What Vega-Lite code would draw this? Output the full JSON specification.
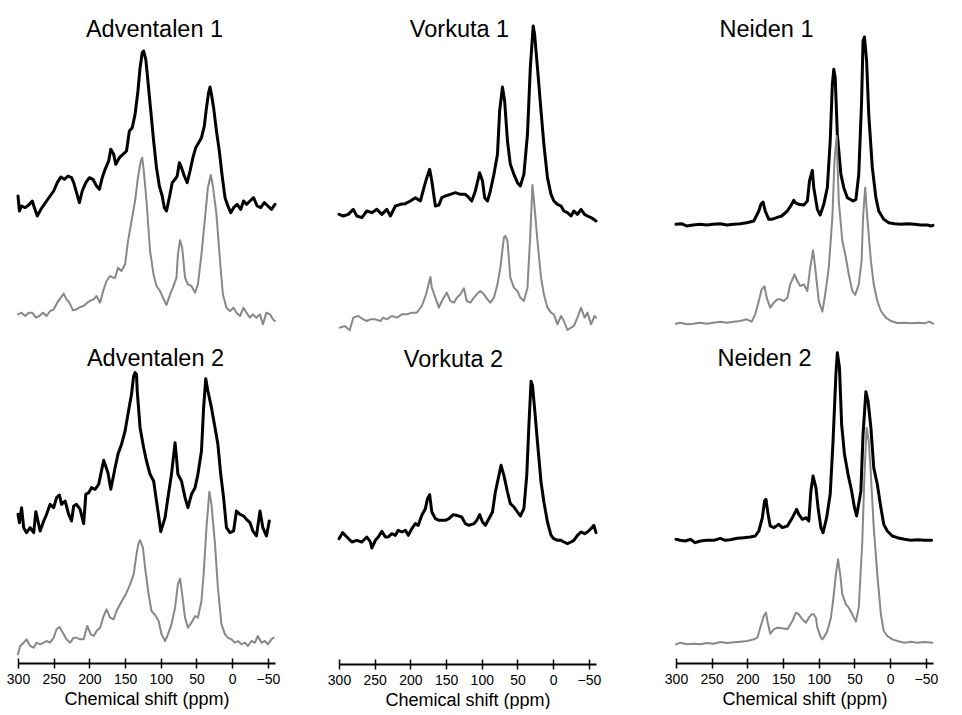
{
  "$schema": "https://vega.github.io/schema/vega-lite/v6.json",
  "background": "white",
  "padding": {"left": 6, "top": 17, "right": 0, "bottom": 0},
  "config": {
    "view": {"stroke": null},
    "font": "Liberation Sans",
    "title": {"fontSize": 23.5, "fontWeight": "normal", "color": "black", "anchor": "middle", "frame": "group", "baseline": "alphabetic"},
    "line": {"strokeJoin": "round", "strokeCap": "round"}
  },
  "datasets": {
    "a1k": [{"ppm":300,"i":405},{"ppm":298,"i":360},{"ppm":295,"i":375},{"ppm":290,"i":370},{"ppm":285,"i":378},{"ppm":280,"i":390},{"ppm":277,"i":370},{"ppm":273,"i":345},{"ppm":268,"i":365},{"ppm":260,"i":390},{"ppm":255,"i":405},{"ppm":250,"i":420},{"ppm":245,"i":445},{"ppm":240,"i":462},{"ppm":235,"i":455},{"ppm":230,"i":465},{"ppm":225,"i":460},{"ppm":222,"i":445},{"ppm":218,"i":415},{"ppm":214,"i":385},{"ppm":210,"i":420},{"ppm":205,"i":445},{"ppm":200,"i":460},{"ppm":195,"i":455},{"ppm":190,"i":435},{"ppm":186,"i":425},{"ppm":182,"i":460},{"ppm":178,"i":485},{"ppm":173,"i":510},{"ppm":170,"i":545},{"ppm":166,"i":530},{"ppm":163,"i":500},{"ppm":158,"i":520},{"ppm":153,"i":530},{"ppm":148,"i":540},{"ppm":144,"i":600},{"ppm":140,"i":610},{"ppm":136,"i":650},{"ppm":132,"i":720},{"ppm":129,"i":790},{"ppm":126,"i":835},{"ppm":124,"i":840},{"ppm":121,"i":815},{"ppm":118,"i":750},{"ppm":114,"i":660},{"ppm":110,"i":570},{"ppm":106,"i":490},{"ppm":102,"i":435},{"ppm":98,"i":405},{"ppm":95,"i":370},{"ppm":92,"i":360},{"ppm":88,"i":400},{"ppm":84,"i":445},{"ppm":80,"i":455},{"ppm":77,"i":465},{"ppm":74,"i":505},{"ppm":71,"i":490},{"ppm":67,"i":465},{"ppm":63,"i":445},{"ppm":59,"i":480},{"ppm":55,"i":520},{"ppm":51,"i":550},{"ppm":47,"i":565},{"ppm":43,"i":580},{"ppm":39,"i":615},{"ppm":36,"i":670},{"ppm":33,"i":715},{"ppm":31,"i":732},{"ppm":29,"i":710},{"ppm":26,"i":670},{"ppm":22,"i":600},{"ppm":18,"i":540},{"ppm":14,"i":465},{"ppm":10,"i":400},{"ppm":6,"i":375},{"ppm":2,"i":355},{"ppm":-2,"i":370},{"ppm":-7,"i":380},{"ppm":-12,"i":365},{"ppm":-16,"i":390},{"ppm":-20,"i":380},{"ppm":-25,"i":390},{"ppm":-30,"i":400},{"ppm":-35,"i":375},{"ppm":-40,"i":370},{"ppm":-45,"i":385},{"ppm":-50,"i":375},{"ppm":-55,"i":365},{"ppm":-60,"i":380}],
    "a1g": [{"ppm":300,"i":50},{"ppm":295,"i":55},{"ppm":290,"i":45},{"ppm":285,"i":55},{"ppm":280,"i":55},{"ppm":275,"i":40},{"ppm":270,"i":45},{"ppm":265,"i":55},{"ppm":260,"i":45},{"ppm":255,"i":60},{"ppm":250,"i":65},{"ppm":245,"i":85},{"ppm":240,"i":100},{"ppm":236,"i":112},{"ppm":232,"i":95},{"ppm":228,"i":85},{"ppm":223,"i":62},{"ppm":218,"i":65},{"ppm":213,"i":72},{"ppm":208,"i":75},{"ppm":203,"i":85},{"ppm":198,"i":92},{"ppm":194,"i":95},{"ppm":190,"i":105},{"ppm":185,"i":85},{"ppm":181,"i":118},{"ppm":176,"i":150},{"ppm":171,"i":165},{"ppm":167,"i":160},{"ppm":164,"i":160},{"ppm":160,"i":190},{"ppm":155,"i":180},{"ppm":150,"i":200},{"ppm":146,"i":268},{"ppm":141,"i":330},{"ppm":136,"i":390},{"ppm":132,"i":460},{"ppm":128,"i":510},{"ppm":126,"i":520},{"ppm":124,"i":485},{"ppm":120,"i":390},{"ppm":115,"i":240},{"ppm":110,"i":168},{"ppm":106,"i":135},{"ppm":101,"i":120},{"ppm":97,"i":100},{"ppm":92,"i":78},{"ppm":87,"i":110},{"ppm":83,"i":130},{"ppm":78,"i":160},{"ppm":76,"i":230},{"ppm":73,"i":272},{"ppm":70,"i":250},{"ppm":66,"i":160},{"ppm":62,"i":140},{"ppm":57,"i":135},{"ppm":52,"i":115},{"ppm":48,"i":140},{"ppm":43,"i":230},{"ppm":38,"i":340},{"ppm":34,"i":430},{"ppm":30,"i":468},{"ppm":27,"i":435},{"ppm":22,"i":350},{"ppm":17,"i":210},{"ppm":13,"i":110},{"ppm":8,"i":70},{"ppm":3,"i":60},{"ppm":-2,"i":70},{"ppm":-6,"i":55},{"ppm":-11,"i":45},{"ppm":-16,"i":70},{"ppm":-20,"i":55},{"ppm":-25,"i":40},{"ppm":-29,"i":50},{"ppm":-34,"i":40},{"ppm":-39,"i":50},{"ppm":-43,"i":20},{"ppm":-48,"i":55},{"ppm":-53,"i":50},{"ppm":-57,"i":35},{"ppm":-60,"i":30}],
    "v1k": [{"ppm":300,"i":350},{"ppm":294,"i":345},{"ppm":287,"i":350},{"ppm":280,"i":365},{"ppm":275,"i":345},{"ppm":268,"i":340},{"ppm":261,"i":360},{"ppm":254,"i":355},{"ppm":247,"i":365},{"ppm":240,"i":350},{"ppm":233,"i":365},{"ppm":228,"i":345},{"ppm":221,"i":375},{"ppm":214,"i":380},{"ppm":207,"i":382},{"ppm":200,"i":390},{"ppm":193,"i":400},{"ppm":186,"i":390},{"ppm":181,"i":430},{"ppm":177,"i":460},{"ppm":173,"i":485},{"ppm":170,"i":450},{"ppm":165,"i":375},{"ppm":160,"i":378},{"ppm":156,"i":400},{"ppm":151,"i":405},{"ppm":144,"i":410},{"ppm":137,"i":415},{"ppm":130,"i":410},{"ppm":123,"i":410},{"ppm":118,"i":400},{"ppm":114,"i":390},{"ppm":109,"i":420},{"ppm":103,"i":475},{"ppm":99,"i":450},{"ppm":96,"i":400},{"ppm":92,"i":390},{"ppm":88,"i":420},{"ppm":83,"i":470},{"ppm":78,"i":530},{"ppm":75,"i":660},{"ppm":71,"i":732},{"ppm":68,"i":690},{"ppm":64,"i":570},{"ppm":60,"i":500},{"ppm":55,"i":470},{"ppm":50,"i":445},{"ppm":46,"i":435},{"ppm":41,"i":470},{"ppm":36,"i":590},{"ppm":32,"i":790},{"ppm":28,"i":915},{"ppm":26,"i":890},{"ppm":22,"i":790},{"ppm":17,"i":660},{"ppm":13,"i":560},{"ppm":8,"i":460},{"ppm":3,"i":410},{"ppm":-1,"i":390},{"ppm":-6,"i":380},{"ppm":-11,"i":375},{"ppm":-15,"i":360},{"ppm":-20,"i":355},{"ppm":-25,"i":345},{"ppm":-29,"i":360},{"ppm":-34,"i":350},{"ppm":-39,"i":365},{"ppm":-44,"i":350},{"ppm":-48,"i":345},{"ppm":-53,"i":340},{"ppm":-57,"i":335},{"ppm":-60,"i":330}],
    "v1g": [{"ppm":299,"i":10},{"ppm":292,"i":15},{"ppm":285,"i":2},{"ppm":280,"i":40},{"ppm":273,"i":45},{"ppm":266,"i":35},{"ppm":261,"i":30},{"ppm":256,"i":35},{"ppm":249,"i":35},{"ppm":242,"i":30},{"ppm":238,"i":40},{"ppm":233,"i":35},{"ppm":226,"i":45},{"ppm":219,"i":40},{"ppm":212,"i":50},{"ppm":205,"i":50},{"ppm":198,"i":55},{"ppm":191,"i":55},{"ppm":184,"i":75},{"ppm":178,"i":110},{"ppm":172,"i":162},{"ppm":170,"i":130},{"ppm":165,"i":100},{"ppm":160,"i":70},{"ppm":156,"i":90},{"ppm":149,"i":115},{"ppm":144,"i":90},{"ppm":139,"i":85},{"ppm":135,"i":100},{"ppm":130,"i":110},{"ppm":125,"i":128},{"ppm":121,"i":90},{"ppm":116,"i":85},{"ppm":111,"i":100},{"ppm":107,"i":110},{"ppm":102,"i":120},{"ppm":97,"i":110},{"ppm":92,"i":95},{"ppm":88,"i":85},{"ppm":83,"i":100},{"ppm":78,"i":140},{"ppm":74,"i":190},{"ppm":69,"i":280},{"ppm":67,"i":285},{"ppm":64,"i":270},{"ppm":60,"i":160},{"ppm":55,"i":130},{"ppm":50,"i":120},{"ppm":46,"i":100},{"ppm":41,"i":90},{"ppm":36,"i":130},{"ppm":32,"i":290},{"ppm":29,"i":438},{"ppm":26,"i":370},{"ppm":22,"i":270},{"ppm":17,"i":160},{"ppm":13,"i":110},{"ppm":8,"i":70},{"ppm":3,"i":55},{"ppm":-1,"i":50},{"ppm":-6,"i":20},{"ppm":-11,"i":45},{"ppm":-15,"i":30},{"ppm":-20,"i":3},{"ppm":-25,"i":10},{"ppm":-29,"i":15},{"ppm":-34,"i":40},{"ppm":-39,"i":70},{"ppm":-44,"i":40},{"ppm":-48,"i":55},{"ppm":-53,"i":20},{"ppm":-58,"i":45},{"ppm":-60,"i":40}],
    "n1k": [{"ppm":300,"i":320},{"ppm":292,"i":322},{"ppm":285,"i":315},{"ppm":276,"i":318},{"ppm":266,"i":320},{"ppm":257,"i":318},{"ppm":248,"i":320},{"ppm":238,"i":322},{"ppm":229,"i":318},{"ppm":219,"i":320},{"ppm":210,"i":322},{"ppm":201,"i":325},{"ppm":191,"i":330},{"ppm":184,"i":360},{"ppm":181,"i":380},{"ppm":178,"i":387},{"ppm":175,"i":360},{"ppm":170,"i":335},{"ppm":166,"i":335},{"ppm":159,"i":340},{"ppm":152,"i":345},{"ppm":144,"i":360},{"ppm":138,"i":380},{"ppm":135,"i":392},{"ppm":133,"i":385},{"ppm":128,"i":380},{"ppm":121,"i":378},{"ppm":116,"i":390},{"ppm":113,"i":450},{"ppm":109,"i":482},{"ppm":107,"i":430},{"ppm":102,"i":365},{"ppm":98,"i":348},{"ppm":93,"i":380},{"ppm":88,"i":430},{"ppm":84,"i":570},{"ppm":81,"i":740},{"ppm":79,"i":785},{"ppm":77,"i":760},{"ppm":74,"i":590},{"ppm":69,"i":470},{"ppm":65,"i":430},{"ppm":60,"i":400},{"ppm":52,"i":390},{"ppm":48,"i":395},{"ppm":44,"i":470},{"ppm":40,"i":690},{"ppm":38,"i":870},{"ppm":36,"i":882},{"ppm":33,"i":810},{"ppm":30,"i":650},{"ppm":25,"i":490},{"ppm":20,"i":400},{"ppm":16,"i":360},{"ppm":9,"i":335},{"ppm":2,"i":325},{"ppm":-6,"i":322},{"ppm":-15,"i":320},{"ppm":-24,"i":322},{"ppm":-34,"i":320},{"ppm":-43,"i":318},{"ppm":-52,"i":318},{"ppm":-57,"i":315},{"ppm":-60,"i":317}],
    "n1g": [{"ppm":300,"i":22},{"ppm":294,"i":25},{"ppm":285,"i":20},{"ppm":276,"i":22},{"ppm":266,"i":25},{"ppm":257,"i":22},{"ppm":248,"i":25},{"ppm":238,"i":28},{"ppm":229,"i":25},{"ppm":219,"i":28},{"ppm":210,"i":30},{"ppm":201,"i":35},{"ppm":194,"i":28},{"ppm":189,"i":50},{"ppm":184,"i":90},{"ppm":180,"i":125},{"ppm":176,"i":134},{"ppm":173,"i":100},{"ppm":168,"i":70},{"ppm":163,"i":85},{"ppm":158,"i":95},{"ppm":154,"i":95},{"ppm":149,"i":90},{"ppm":144,"i":100},{"ppm":140,"i":140},{"ppm":134,"i":170},{"ppm":130,"i":150},{"ppm":126,"i":135},{"ppm":121,"i":140},{"ppm":116,"i":120},{"ppm":112,"i":190},{"ppm":108,"i":242},{"ppm":105,"i":190},{"ppm":100,"i":90},{"ppm":95,"i":58},{"ppm":91,"i":110},{"ppm":86,"i":190},{"ppm":81,"i":340},{"ppm":78,"i":510},{"ppm":75,"i":585},{"ppm":72,"i":390},{"ppm":67,"i":270},{"ppm":62,"i":220},{"ppm":58,"i":170},{"ppm":53,"i":120},{"ppm":49,"i":108},{"ppm":44,"i":140},{"ppm":40,"i":210},{"ppm":38,"i":340},{"ppm":35,"i":430},{"ppm":32,"i":340},{"ppm":27,"i":210},{"ppm":23,"i":140},{"ppm":18,"i":90},{"ppm":13,"i":60},{"ppm":6,"i":40},{"ppm":-1,"i":30},{"ppm":-10,"i":24},{"ppm":-20,"i":25},{"ppm":-29,"i":23},{"ppm":-38,"i":25},{"ppm":-48,"i":23},{"ppm":-55,"i":28},{"ppm":-60,"i":22}],
    "a2k": [{"ppm":300,"i":446},{"ppm":298,"i":421},{"ppm":295,"i":466},{"ppm":292,"i":406},{"ppm":288,"i":391},{"ppm":283,"i":406},{"ppm":278,"i":391},{"ppm":275,"i":454},{"ppm":269,"i":396},{"ppm":264,"i":426},{"ppm":260,"i":446},{"ppm":255,"i":476},{"ppm":250,"i":466},{"ppm":246,"i":496},{"ppm":242,"i":504},{"ppm":239,"i":476},{"ppm":234,"i":486},{"ppm":229,"i":446},{"ppm":225,"i":426},{"ppm":222,"i":471},{"ppm":218,"i":476},{"ppm":213,"i":461},{"ppm":208,"i":418},{"ppm":205,"i":506},{"ppm":201,"i":511},{"ppm":197,"i":526},{"ppm":192,"i":521},{"ppm":187,"i":536},{"ppm":185,"i":556},{"ppm":180,"i":608},{"ppm":174,"i":571},{"ppm":170,"i":521},{"ppm":164,"i":586},{"ppm":160,"i":626},{"ppm":155,"i":656},{"ppm":150,"i":696},{"ppm":146,"i":746},{"ppm":141,"i":806},{"ppm":138,"i":861},{"ppm":136,"i":871},{"ppm":134,"i":866},{"ppm":133,"i":816},{"ppm":129,"i":706},{"ppm":124,"i":646},{"ppm":120,"i":606},{"ppm":115,"i":566},{"ppm":110,"i":546},{"ppm":106,"i":486},{"ppm":102,"i":426},{"ppm":100,"i":394},{"ppm":94,"i":436},{"ppm":90,"i":496},{"ppm":85,"i":566},{"ppm":80,"i":661},{"ppm":78,"i":616},{"ppm":76,"i":566},{"ppm":71,"i":546},{"ppm":66,"i":496},{"ppm":62,"i":466},{"ppm":57,"i":506},{"ppm":52,"i":526},{"ppm":48,"i":566},{"ppm":43,"i":636},{"ppm":40,"i":766},{"ppm":37,"i":853},{"ppm":34,"i":816},{"ppm":29,"i":766},{"ppm":24,"i":706},{"ppm":20,"i":656},{"ppm":16,"i":566},{"ppm":12,"i":496},{"ppm":8,"i":406},{"ppm":3,"i":391},{"ppm":-2,"i":396},{"ppm":-6,"i":456},{"ppm":-11,"i":446},{"ppm":-16,"i":441},{"ppm":-20,"i":431},{"ppm":-25,"i":421},{"ppm":-29,"i":396},{"ppm":-34,"i":381},{"ppm":-39,"i":456},{"ppm":-43,"i":406},{"ppm":-48,"i":381},{"ppm":-52,"i":426}],
    "a2g": [{"ppm":300,"i":26},{"ppm":297,"i":51},{"ppm":292,"i":61},{"ppm":288,"i":71},{"ppm":283,"i":51},{"ppm":278,"i":46},{"ppm":274,"i":61},{"ppm":269,"i":56},{"ppm":264,"i":61},{"ppm":260,"i":66},{"ppm":255,"i":61},{"ppm":250,"i":76},{"ppm":246,"i":101},{"ppm":242,"i":108},{"ppm":236,"i":86},{"ppm":232,"i":71},{"ppm":227,"i":61},{"ppm":222,"i":76},{"ppm":218,"i":76},{"ppm":213,"i":71},{"ppm":208,"i":71},{"ppm":203,"i":111},{"ppm":198,"i":86},{"ppm":194,"i":81},{"ppm":190,"i":96},{"ppm":185,"i":106},{"ppm":180,"i":141},{"ppm":176,"i":161},{"ppm":171,"i":136},{"ppm":166,"i":131},{"ppm":162,"i":156},{"ppm":157,"i":176},{"ppm":152,"i":196},{"ppm":148,"i":211},{"ppm":143,"i":236},{"ppm":138,"i":266},{"ppm":134,"i":326},{"ppm":131,"i":361},{"ppm":129,"i":368},{"ppm":125,"i":346},{"ppm":122,"i":286},{"ppm":117,"i":206},{"ppm":113,"i":156},{"ppm":108,"i":144},{"ppm":103,"i":126},{"ppm":99,"i":86},{"ppm":94,"i":66},{"ppm":90,"i":86},{"ppm":85,"i":116},{"ppm":80,"i":166},{"ppm":76,"i":236},{"ppm":73,"i":253},{"ppm":70,"i":206},{"ppm":66,"i":136},{"ppm":62,"i":106},{"ppm":57,"i":121},{"ppm":52,"i":141},{"ppm":48,"i":136},{"ppm":43,"i":186},{"ppm":40,"i":266},{"ppm":36,"i":406},{"ppm":32,"i":514},{"ppm":29,"i":476},{"ppm":24,"i":356},{"ppm":20,"i":226},{"ppm":15,"i":116},{"ppm":10,"i":86},{"ppm":6,"i":76},{"ppm":1,"i":71},{"ppm":-4,"i":61},{"ppm":-8,"i":66},{"ppm":-13,"i":56},{"ppm":-18,"i":61},{"ppm":-22,"i":51},{"ppm":-27,"i":66},{"ppm":-32,"i":61},{"ppm":-36,"i":81},{"ppm":-41,"i":61},{"ppm":-46,"i":66},{"ppm":-50,"i":56},{"ppm":-55,"i":71},{"ppm":-58,"i":76}],
    "v2k": [{"ppm":300,"i":376},{"ppm":295,"i":394},{"ppm":289,"i":381},{"ppm":282,"i":366},{"ppm":275,"i":371},{"ppm":268,"i":366},{"ppm":261,"i":381},{"ppm":256,"i":366},{"ppm":254,"i":348},{"ppm":249,"i":371},{"ppm":245,"i":381},{"ppm":240,"i":398},{"ppm":235,"i":381},{"ppm":231,"i":381},{"ppm":226,"i":391},{"ppm":221,"i":386},{"ppm":217,"i":401},{"ppm":212,"i":396},{"ppm":207,"i":401},{"ppm":203,"i":386},{"ppm":198,"i":406},{"ppm":193,"i":421},{"ppm":189,"i":416},{"ppm":184,"i":446},{"ppm":179,"i":466},{"ppm":176,"i":496},{"ppm":173,"i":508},{"ppm":170,"i":456},{"ppm":165,"i":436},{"ppm":160,"i":431},{"ppm":156,"i":431},{"ppm":151,"i":431},{"ppm":146,"i":436},{"ppm":140,"i":448},{"ppm":135,"i":446},{"ppm":128,"i":441},{"ppm":123,"i":421},{"ppm":118,"i":416},{"ppm":111,"i":421},{"ppm":107,"i":431},{"ppm":103,"i":448},{"ppm":99,"i":426},{"ppm":95,"i":416},{"ppm":90,"i":436},{"ppm":85,"i":456},{"ppm":81,"i":516},{"ppm":76,"i":566},{"ppm":73,"i":596},{"ppm":69,"i":566},{"ppm":64,"i":516},{"ppm":60,"i":481},{"ppm":55,"i":471},{"ppm":50,"i":456},{"ppm":46,"i":444},{"ppm":41,"i":466},{"ppm":37,"i":566},{"ppm":34,"i":716},{"ppm":31,"i":848},{"ppm":29,"i":836},{"ppm":26,"i":766},{"ppm":22,"i":666},{"ppm":17,"i":546},{"ppm":13,"i":486},{"ppm":8,"i":426},{"ppm":3,"i":386},{"ppm":-1,"i":376},{"ppm":-6,"i":371},{"ppm":-11,"i":371},{"ppm":-15,"i":366},{"ppm":-20,"i":361},{"ppm":-25,"i":366},{"ppm":-29,"i":371},{"ppm":-34,"i":386},{"ppm":-39,"i":396},{"ppm":-44,"i":391},{"ppm":-48,"i":396},{"ppm":-53,"i":406},{"ppm":-57,"i":416},{"ppm":-60,"i":394}],
    "n2k": [{"ppm":300,"i":371},{"ppm":294,"i":368},{"ppm":287,"i":366},{"ppm":280,"i":371},{"ppm":273,"i":361},{"ppm":266,"i":366},{"ppm":257,"i":368},{"ppm":247,"i":368},{"ppm":238,"i":374},{"ppm":231,"i":368},{"ppm":224,"i":370},{"ppm":214,"i":374},{"ppm":205,"i":376},{"ppm":196,"i":378},{"ppm":189,"i":381},{"ppm":184,"i":396},{"ppm":179,"i":436},{"ppm":176,"i":486},{"ppm":174,"i":491},{"ppm":171,"i":446},{"ppm":168,"i":411},{"ppm":163,"i":406},{"ppm":156,"i":416},{"ppm":151,"i":406},{"ppm":144,"i":411},{"ppm":137,"i":436},{"ppm":131,"i":461},{"ppm":128,"i":446},{"ppm":123,"i":431},{"ppm":118,"i":436},{"ppm":114,"i":426},{"ppm":111,"i":516},{"ppm":108,"i":561},{"ppm":104,"i":526},{"ppm":101,"i":466},{"ppm":97,"i":406},{"ppm":94,"i":391},{"ppm":89,"i":436},{"ppm":84,"i":506},{"ppm":80,"i":666},{"ppm":76,"i":866},{"ppm":74,"i":931},{"ppm":71,"i":886},{"ppm":68,"i":716},{"ppm":64,"i":626},{"ppm":59,"i":566},{"ppm":54,"i":516},{"ppm":50,"i":466},{"ppm":47,"i":441},{"ppm":41,"i":516},{"ppm":38,"i":686},{"ppm":34,"i":814},{"ppm":31,"i":786},{"ppm":27,"i":706},{"ppm":23,"i":586},{"ppm":18,"i":536},{"ppm":13,"i":466},{"ppm":9,"i":416},{"ppm":4,"i":396},{"ppm":-3,"i":381},{"ppm":-10,"i":376},{"ppm":-20,"i":371},{"ppm":-29,"i":368},{"ppm":-38,"i":370},{"ppm":-48,"i":368},{"ppm":-58,"i":368}],
    "n2g": [{"ppm":300,"i":56},{"ppm":294,"i":61},{"ppm":285,"i":56},{"ppm":275,"i":58},{"ppm":266,"i":56},{"ppm":257,"i":60},{"ppm":247,"i":58},{"ppm":238,"i":63},{"ppm":228,"i":60},{"ppm":219,"i":62},{"ppm":210,"i":64},{"ppm":200,"i":66},{"ppm":191,"i":71},{"ppm":186,"i":76},{"ppm":182,"i":106},{"ppm":177,"i":141},{"ppm":174,"i":151},{"ppm":171,"i":116},{"ppm":168,"i":88},{"ppm":163,"i":101},{"ppm":158,"i":106},{"ppm":151,"i":104},{"ppm":144,"i":101},{"ppm":137,"i":126},{"ppm":132,"i":151},{"ppm":128,"i":146},{"ppm":123,"i":131},{"ppm":118,"i":121},{"ppm":114,"i":136},{"ppm":110,"i":146},{"ppm":107,"i":146},{"ppm":104,"i":136},{"ppm":102,"i":106},{"ppm":97,"i":76},{"ppm":95,"i":71},{"ppm":93,"i":76},{"ppm":88,"i":96},{"ppm":83,"i":136},{"ppm":80,"i":186},{"ppm":76,"i":266},{"ppm":73,"i":311},{"ppm":70,"i":266},{"ppm":67,"i":206},{"ppm":62,"i":176},{"ppm":58,"i":166},{"ppm":53,"i":146},{"ppm":48,"i":124},{"ppm":44,"i":166},{"ppm":39,"i":366},{"ppm":36,"i":566},{"ppm":33,"i":706},{"ppm":30,"i":666},{"ppm":27,"i":566},{"ppm":23,"i":406},{"ppm":18,"i":266},{"ppm":13,"i":146},{"ppm":9,"i":96},{"ppm":4,"i":81},{"ppm":-3,"i":71},{"ppm":-10,"i":66},{"ppm":-20,"i":61},{"ppm":-29,"i":64},{"ppm":-38,"i":61},{"ppm":-48,"i":63},{"ppm":-59,"i":61}]
  },
  "spacing": 63,
  "hconcat": [
    {
      "spacing": 47,
      "hconcat": [
        {
          "spacing": 15,
          "vconcat": [
            {
              "width": 257, "height": 310,
              "title": {"text": "Adventalen 1", "dx": 8, "offset": -20},
              "layer": [
                {"data": {"name": "a1k"}, "mark": {"type": "line", "color": "black", "strokeWidth": 3},
                 "encoding": {"x": {"field": "ppm", "type": "quantitative", "scale": {"domain": [-60, 300], "reverse": true, "nice": false, "zero": false}, "axis": null},
                              "y": {"field": "i", "type": "quantitative", "scale": {"domain": [0, 930], "nice": false, "zero": false}, "axis": null}}},
                {"data": {"name": "a1g"}, "mark": {"type": "line", "color": "#888888", "strokeWidth": 2},
                 "encoding": {"x": {"field": "ppm", "type": "quantitative", "axis": null},
                              "y": {"field": "i", "type": "quantitative", "axis": null}}}
              ]
            },
            {
              "width": 257, "height": 317,
              "title": {"text": "Adventalen 2", "dx": 9, "offset": -24},
              "resolve": {"axis": {"x": "independent"}},
              "layer": [
                {"data": {"name": "a2k"}, "mark": {"type": "line", "color": "black", "strokeWidth": 3},
                 "encoding": {"x": {"field": "ppm", "type": "quantitative", "scale": {"domain": [-60, 300], "reverse": true, "nice": false, "zero": false},
                                    "axis": {"orient": "bottom", "values": [300, 250, 200, 150, 100, 50, 0, -50], "title": "Chemical shift (ppm)", "grid": false, "domainColor": "black", "domainWidth": 2, "tickColor": "black", "tickWidth": 1.5, "tickSize": 5, "labelFontSize": 14, "labelColor": "black", "labelPadding": 4, "labelOverlap": false, "labelFlush": false, "labelBound": false, "titleFontSize": 18, "titleFontWeight": "normal", "titleColor": "black", "titlePadding": 4}},
                              "y": {"field": "i", "type": "quantitative", "scale": {"domain": [0, 951], "nice": false, "zero": false}, "axis": null}}},
                {"data": {"name": "a2g"}, "mark": {"type": "line", "color": "#888888", "strokeWidth": 2},
                 "encoding": {"x": {"field": "ppm", "type": "quantitative",
                                    "axis": {"orient": "bottom", "values": [300, 250, 200, 150, 100, 50, 0, -50], "title": null, "grid": false, "domain": false, "labels": false, "tickColor": "black", "tickWidth": 1.5, "tickSize": -5}},
                              "y": {"field": "i", "type": "quantitative", "axis": null}}}
              ]
            }
          ]
        },
        {
          "spacing": 15,
          "vconcat": [
            {
              "width": 257, "height": 310,
              "title": {"text": "Vorkuta 1", "dx": -8, "offset": -20},
              "layer": [
                {"data": {"name": "v1k"}, "mark": {"type": "line", "color": "black", "strokeWidth": 3},
                 "encoding": {"x": {"field": "ppm", "type": "quantitative", "scale": {"domain": [-60, 300], "reverse": true, "nice": false, "zero": false}, "axis": null},
                              "y": {"field": "i", "type": "quantitative", "scale": {"domain": [0, 930], "nice": false, "zero": false}, "axis": null}}},
                {"data": {"name": "v1g"}, "mark": {"type": "line", "color": "#888888", "strokeWidth": 2},
                 "encoding": {"x": {"field": "ppm", "type": "quantitative", "axis": null},
                              "y": {"field": "i", "type": "quantitative", "axis": null}}}
              ]
            },
            {
              "width": 257, "height": 317,
              "title": {"text": "Vorkuta 2", "dx": -14, "offset": -24},
              "resolve": {"axis": {"x": "independent"}},
              "layer": [
                {"data": {"name": "v2k"}, "mark": {"type": "line", "color": "black", "strokeWidth": 3},
                 "encoding": {"x": {"field": "ppm", "type": "quantitative", "scale": {"domain": [-60, 300], "reverse": true, "nice": false, "zero": false},
                                    "axis": {"orient": "bottom", "values": [300, 250, 200, 150, 100, 50, 0, -50], "title": "Chemical shift (ppm)", "grid": false, "domainColor": "black", "domainWidth": 2, "tickColor": "black", "tickWidth": 1.5, "tickSize": 5, "labelFontSize": 14, "labelColor": "black", "labelPadding": 4, "labelOverlap": false, "labelFlush": false, "labelBound": false, "titleFontSize": 18, "titleFontWeight": "normal", "titleColor": "black", "titlePadding": 4}},
                              "y": {"field": "i", "type": "quantitative", "scale": {"domain": [0, 951], "nice": false, "zero": false}, "axis": null}}},
                {"data": {"name": "v2k"}, "mark": {"type": "line", "color": "black", "strokeWidth": 3, "strokeOpacity": 0},
                 "encoding": {"x": {"field": "ppm", "type": "quantitative",
                                    "axis": {"orient": "bottom", "values": [300, 250, 200, 150, 100, 50, 0, -50], "title": null, "grid": false, "domain": false, "labels": false, "tickColor": "black", "tickWidth": 1.5, "tickSize": -5}},
                              "y": {"field": "i", "type": "quantitative", "axis": null}}}
              ]
            }
          ]
        }
      ]
    },
    {
      "spacing": 15,
      "vconcat": [
        {
          "width": 257, "height": 310,
          "title": {"text": "Neiden 1", "dx": -38, "offset": -20},
          "layer": [
            {"data": {"name": "n1k"}, "mark": {"type": "line", "color": "black", "strokeWidth": 3},
             "encoding": {"x": {"field": "ppm", "type": "quantitative", "scale": {"domain": [-60, 300], "reverse": true, "nice": false, "zero": false}, "axis": null},
                          "y": {"field": "i", "type": "quantitative", "scale": {"domain": [0, 930], "nice": false, "zero": false}, "axis": null}}},
            {"data": {"name": "n1g"}, "mark": {"type": "line", "color": "#888888", "strokeWidth": 2},
             "encoding": {"x": {"field": "ppm", "type": "quantitative", "axis": null},
                          "y": {"field": "i", "type": "quantitative", "axis": null}}}
          ]
        },
        {
          "width": 257, "height": 317,
          "title": {"text": "Neiden 2", "dx": -40, "offset": -24},
          "resolve": {"axis": {"x": "independent"}},
          "layer": [
            {"data": {"name": "n2k"}, "mark": {"type": "line", "color": "black", "strokeWidth": 3},
             "encoding": {"x": {"field": "ppm", "type": "quantitative", "scale": {"domain": [-60, 300], "reverse": true, "nice": false, "zero": false},
                                "axis": {"orient": "bottom", "values": [300, 250, 200, 150, 100, 50, 0, -50], "title": "Chemical shift (ppm)", "grid": false, "domainColor": "black", "domainWidth": 2, "tickColor": "black", "tickWidth": 1.5, "tickSize": 5, "labelFontSize": 14, "labelColor": "black", "labelPadding": 4, "labelOverlap": false, "labelFlush": false, "labelBound": false, "titleFontSize": 18, "titleFontWeight": "normal", "titleColor": "black", "titlePadding": 4}},
                          "y": {"field": "i", "type": "quantitative", "scale": {"domain": [0, 951], "nice": false, "zero": false}, "axis": null}}},
            {"data": {"name": "n2g"}, "mark": {"type": "line", "color": "#888888", "strokeWidth": 2},
             "encoding": {"x": {"field": "ppm", "type": "quantitative",
                                "axis": {"orient": "bottom", "values": [300, 250, 200, 150, 100, 50, 0, -50], "title": null, "grid": false, "domain": false, "labels": false, "tickColor": "black", "tickWidth": 1.5, "tickSize": -5}},
                          "y": {"field": "i", "type": "quantitative", "axis": null}}}
          ]
        }
      ]
    }
  ]
}
